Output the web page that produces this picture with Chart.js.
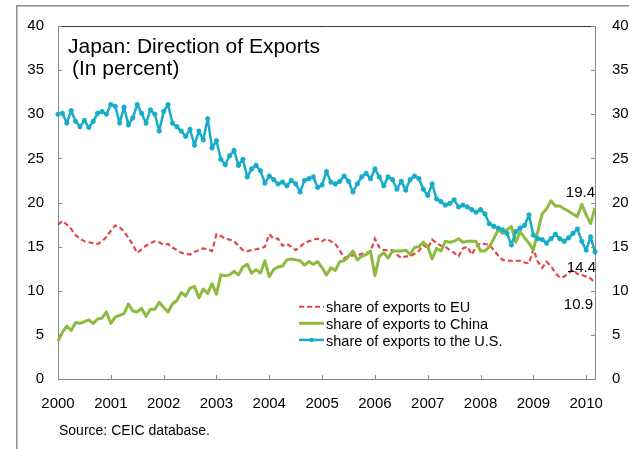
<!DOCTYPE html>
<html>
<head>
<meta charset="utf-8">
<script src="https://cdn.jsdelivr.net/npm/chart.js@4.4.1/dist/chart.umd.min.js"></script>
<style>
html,body{margin:0;padding:0;background:#fff;}
#wrap{width:629px;height:449px;position:relative;}
</style>
</head>
<body>
<div id="wrap"><canvas id="c" width="629" height="449"></canvas></div>
<script>
// ---------- DATA ----------
const startYear = 2000;
const monthCount = 123; // Jan 2000 .. Mar 2010
const yearTicks = ['2000','2001','2002','2003','2004','2005','2006','2007','2008','2009','2010'];
const yTicks = [0,5,10,15,20,25,30,35,40];

const euShare = [
 17.5,17.9,17.5,17.0,16.3,15.9,15.6,15.5,15.4,15.3,15.6,16.1,
 16.8,17.4,17.2,16.7,16.0,15.2,14.3,14.7,15.1,15.4,15.6,15.5,
 15.2,15.3,14.9,14.6,14.3,14.2,14.1,14.4,14.6,14.8,14.7,14.5,
 16.4,16.2,15.9,15.8,15.6,15.1,14.6,14.5,14.6,14.7,14.8,15.0,
 16.4,15.9,15.9,15.1,15.3,15.0,14.6,15.0,15.4,15.6,15.8,15.9,
 15.6,15.9,15.6,15.3,14.6,13.7,13.9,14.0,14.0,14.2,14.3,14.4,
 15.9,14.9,14.6,14.6,14.6,14.1,13.7,13.9,13.9,14.2,14.5,15.2,
 14.8,15.8,15.4,15.1,15.0,14.6,14.3,13.9,14.8,15.0,14.1,15.0,
 15.4,15.3,15.2,14.6,14.0,13.5,13.4,13.4,13.4,13.4,13.2,13.1,
 14.7,13.3,12.6,13.3,12.8,12.0,11.5,11.6,12.0,12.4,11.9,11.8,
 11.6,11.4,10.9
];
const chinaShare = [
 4.3,5.3,6.0,5.5,6.4,6.3,6.5,6.7,6.3,6.8,6.9,7.6,
 6.3,7.0,7.2,7.4,8.5,7.7,7.6,8.0,7.1,7.9,7.9,8.7,
 8.1,7.6,8.5,8.9,9.8,9.4,10.3,10.5,9.2,10.2,9.7,10.8,
 9.6,11.8,11.7,11.8,12.2,11.8,12.7,13.0,12.0,12.4,12.0,13.4,
 11.6,12.4,12.7,12.8,13.5,13.6,13.5,13.4,12.9,13.3,13.0,13.3,
 12.6,11.8,12.6,12.3,13.3,13.4,13.9,14.5,13.5,13.9,14.1,14.5,
 11.7,13.9,14.3,13.7,14.5,14.5,14.5,14.6,14.1,14.9,15.0,15.5,
 15.0,13.6,14.8,14.5,15.6,15.5,15.6,15.9,15.5,15.6,15.6,15.6,
 14.5,14.5,15.0,15.9,16.9,16.5,16.9,17.3,15.5,16.7,16.0,15.4,
 14.6,16.7,18.7,19.3,20.2,19.6,19.6,19.3,19.0,18.7,18.4,19.8,
 18.6,17.6,19.4
];
const usShare = [
 30.0,30.1,29.0,30.4,29.2,28.6,29.3,28.5,29.2,30.1,30.3,30.0,
 31.1,30.9,29.0,30.8,28.8,29.6,31.1,30.1,29.0,30.5,30.0,28.1,
 30.3,31.1,29.0,28.6,28.1,27.5,28.3,26.5,28.1,27.1,29.5,26.2,
 27.0,24.9,24.3,25.3,25.9,24.2,24.9,22.9,23.8,24.2,23.6,22.2,
 23.0,22.6,22.1,22.3,21.9,22.5,22.1,21.2,22.5,22.7,22.9,21.7,
 22.0,23.5,22.3,22.1,22.4,23.0,22.4,21.2,22.1,22.9,23.3,22.7,
 23.8,22.9,21.9,22.9,22.6,21.5,22.4,21.4,22.6,23.0,22.7,21.5,
 20.8,22.1,20.4,20.1,19.7,19.9,20.3,19.5,19.7,19.5,19.2,18.9,
 19.2,18.7,17.6,17.3,17.1,16.9,16.5,15.2,16.7,17.1,17.4,18.6,
 16.3,15.9,15.8,15.4,15.9,16.4,15.9,15.6,16.0,16.5,17.0,15.6,
 14.6,16.1,14.4
];
const seriesNames = ['share of exports to EU','share of exports to China','share of exports to the U.S.'];
const titleLines = ['Japan: Direction of Exports','(In percent)'];
const sourceNote = 'Source: CEIC database.';

// month categories
const months = [];
for (let i = 0; i < monthCount; i++) {
  months.push(yearTicks[Math.floor(i / 12)] + '-' + String(i % 12 + 1).padStart(2, '0'));
}

// ---------- STYLE ----------
const FONT = '"Liberation Sans", Arial, Helvetica, sans-serif';
const C_EU = '#E2474A', C_CN = '#8CBB3F', C_US = '#17ADC9';
const AXIS = '#8a8a8a';

const decor = {
  id: 'decor',
  beforeDraw(chart) {
    const ctx = chart.ctx;
    ctx.save(); ctx.fillStyle = '#fff'; ctx.fillRect(0, 0, chart.width, chart.height); ctx.restore();
  },
  afterDraw(chart) {
    const { ctx, chartArea: a, scales } = chart;
    ctx.save();
    // outer frame
    ctx.strokeStyle = '#8c8c8c'; ctx.lineWidth = 1.5;
    ctx.beginPath(); ctx.moveTo(16.75, chart.height); ctx.lineTo(16.75, 5.75); ctx.lineTo(chart.width, 5.75); ctx.stroke();
    // top border of plot
    ctx.strokeStyle = '#333'; ctx.lineWidth = 1;
    ctx.beginPath(); ctx.moveTo(a.left, a.top + 0.5); ctx.lineTo(a.right, a.top + 0.5); ctx.stroke();
    // inward ticks
    ctx.strokeStyle = AXIS; ctx.lineWidth = 1;
    const ys = scales.y;
    ys.ticks.forEach((t, i) => {
      const py = Math.round(ys.getPixelForTick(i)) + 0.5;
      ctx.beginPath(); ctx.moveTo(a.left, py); ctx.lineTo(a.left + 4, py); ctx.stroke();
      ctx.beginPath(); ctx.moveTo(a.right - 4, py); ctx.lineTo(a.right, py); ctx.stroke();
    });
    const xs = scales.x;
    xs.ticks.forEach((t, i) => {
      if (t.label == null || t.label === '') return;
      const px = Math.round(xs.getPixelForTick(i)) + 0.5;
      ctx.beginPath(); ctx.moveTo(px, a.bottom); ctx.lineTo(px, a.bottom - 4); ctx.stroke();
    });
    // title
    ctx.fillStyle = '#000'; ctx.textAlign = 'left'; ctx.textBaseline = 'alphabetic';
    ctx.font = '21px ' + FONT;
    ctx.fillText(titleLines[0], 68, 52.7);
    ctx.fillText(titleLines[1], 72, 74.5);
    // legend
    const rows = [
      { c: C_EU, w: 2, dash: [5, 3], pt: false },
      { c: C_CN, w: 3, dash: [], pt: false },
      { c: C_US, w: 2.5, dash: [], pt: true }
    ];
    const ly0 = 306.7, lstep = 16.6;
    ctx.font = '14.5px ' + FONT;
    rows.forEach((r, i) => {
      const y = ly0 + i * lstep;
      ctx.save();
      ctx.strokeStyle = r.c; ctx.lineWidth = r.w; ctx.setLineDash(r.dash);
      ctx.beginPath(); ctx.moveTo(299, y); ctx.lineTo(324, y); ctx.stroke();
      ctx.restore();
      if (r.pt) { ctx.fillStyle = r.c; ctx.beginPath(); ctx.arc(311.5, y, 2.2, 0, Math.PI * 2); ctx.fill(); }
      ctx.fillStyle = '#000';
      ctx.fillText(seriesNames[i], 326, y + 5.6);
    });
    // end value labels
    ctx.font = '15px ' + FONT; ctx.textAlign = 'right'; ctx.fillStyle = '#000';
    const cn = chinaShare[chinaShare.length - 1], us = usShare[usShare.length - 1], eu = euShare[euShare.length - 1];
    ctx.fillText(cn.toFixed(1), a.right, ys.getPixelForValue(cn) - 11);
    ctx.fillText(us.toFixed(1), a.right + 1, ys.getPixelForValue(us) + 20);
    ctx.fillText(eu.toFixed(1), a.right - 2, ys.getPixelForValue(eu) + 26.6);
    // source
    ctx.textAlign = 'left'; ctx.font = '14px ' + FONT;
    ctx.fillText(sourceNote, 59, 434.8);
    ctx.restore();
  }
};

const tickFont = { family: FONT, size: 15 };

new Chart(document.getElementById('c'), {
  type: 'line',
  data: {
    labels: months,
    datasets: [
      { label: seriesNames[0], data: euShare, borderColor: C_EU, borderWidth: 2.2, borderDash: [5, 3],
        pointRadius: 0, tension: 0, fill: false, order: 3 },
      { label: seriesNames[1], data: chinaShare, borderColor: C_CN, borderWidth: 3,
        pointRadius: 0, tension: 0, fill: false, order: 2, borderJoinStyle: 'round' },
      { label: seriesNames[2], data: usShare, borderColor: C_US, borderWidth: 2.5,
        pointRadius: 2.6, pointStyle: 'star', pointBorderColor: C_US, pointBackgroundColor: C_US,
        pointBorderWidth: 1.5, tension: 0, fill: false, order: 1, borderJoinStyle: 'round' }
    ]
  },
  options: {
    responsive: false,
    animation: false,
    devicePixelRatio: 1,
    layout: { padding: { top: 22, left: 0, right: 0, bottom: 0 } },
    plugins: { legend: { display: false }, tooltip: { enabled: false }, title: { display: false } },
    elements: { line: { capBezierPoints: false } },
    scales: {
      x: {
        type: 'category',
        offset: false,
        grid: { display: false, drawTicks: false },
        border: { display: true, color: AXIS, width: 1 },
        ticks: {
          autoSkip: false, maxRotation: 0, minRotation: 0, padding: 16,
          color: '#000', font: tickFont,
          callback: (v, i) => (i % 12 === 0 ? yearTicks[i / 12] : null)
        },
        afterFit: s => { s.height = 70; }
      },
      y: {
        position: 'left', min: 0, max: 40,
        afterBuildTicks: s => { s.ticks = yTicks.map(v => ({ value: v })); },
        grid: { display: false, drawTicks: false },
        border: { display: true, color: AXIS, width: 1 },
        ticks: { padding: 14, color: '#000', font: tickFont },
        afterFit: s => { s.width = 58; }
      },
      y2: {
        position: 'right', min: 0, max: 40,
        afterBuildTicks: s => { s.ticks = yTicks.map(v => ({ value: v })); },
        grid: { display: false, drawTicks: false },
        border: { display: true, color: AXIS, width: 1 },
        ticks: { padding: 17, color: '#000', font: tickFont },
        afterFit: s => { s.width = 34; }
      }
    }
  },
  plugins: [decor]
});
</script>
</body>
</html>
